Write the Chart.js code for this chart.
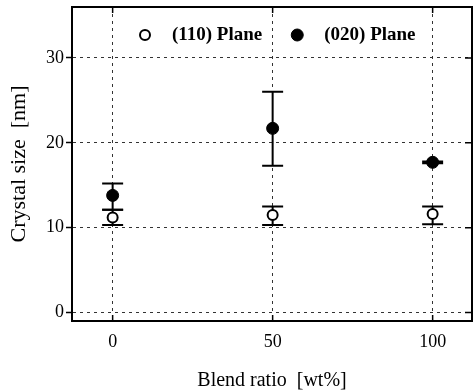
<!DOCTYPE html>
<html>
<head>
<meta charset="utf-8">
<script src="https://cdn.jsdelivr.net/npm/chart.js@4"></script>
<style>
  html, body { margin: 0; padding: 0; background: #fff; }
  #chartBox { width: 473px; height: 391px; }
</style>
</head>
<body>
<div id="chartBox"><canvas id="crystalChart" width="473" height="391"></canvas></div>
<script>
// values
const blendRatio = [0, 50, 100];
const plane110 = [11.2, 11.5, 11.6];
const plane110Low = [10.3, 10.3, 10.4];
const plane110High = [12.1, 12.5, 12.5];
const plane020 = [13.8, 21.7, 17.7];
const plane020Low = [12.1, 17.3, 17.6];
const plane020High = [15.2, 26.0, 17.8];
const xTicks = [0, 50, 100];
const yTicks = [0, 10, 20, 30];
const seriesNames = ["(110) Plane", "(020) Plane"];

const serif = "'Liberation Serif', 'Times New Roman', serif";
Chart.defaults.font.family = serif;
Chart.defaults.color = "#000";

const toPoints = (ys) => blendRatio.map((x, i) => ({ x: x, y: ys[i] }));

// error bars drawn under the markers so open circles stay white inside
const errorBars = {
  id: "errorBars",
  beforeDatasetsDraw(chart) {
    const ctx = chart.ctx;
    const xs = chart.scales.x;
    const ys = chart.scales.y;
    ctx.save();
    ctx.strokeStyle = "#000";
    ctx.lineWidth = 2;
    chart.data.datasets.forEach(ds => {
      ds.data.forEach((p, j) => {
        const px = xs.getPixelForValue(p.x);
        const lo = ys.getPixelForValue(ds.errLow[j]);
        const hi = ys.getPixelForValue(ds.errHigh[j]);
        ctx.beginPath();
        ctx.moveTo(px, lo); ctx.lineTo(px, hi);
        ctx.moveTo(px - 10.5, lo); ctx.lineTo(px + 10.5, lo);
        ctx.moveTo(px - 10.5, hi); ctx.lineTo(px + 10.5, hi);
        ctx.stroke();
      });
    });
    ctx.restore();
  }
};

// top/right frame and the inward tick marks
const frame = {
  id: "frame",
  afterDraw(chart) {
    const ctx = chart.ctx;
    const a = chart.chartArea;
    const xs = chart.scales.x;
    const ys = chart.scales.y;
    ctx.save();
    ctx.strokeStyle = "#000";
    ctx.lineWidth = 2;
    ctx.beginPath();
    ctx.moveTo(a.left, a.top); ctx.lineTo(a.right, a.top); ctx.lineTo(a.right, a.bottom);
    ctx.stroke();
    ctx.lineWidth = 1.5;
    ctx.beginPath();
    xTicks.forEach(v => {
      const px = xs.getPixelForValue(v);
      ctx.moveTo(px, a.bottom); ctx.lineTo(px, a.bottom - 6);
      ctx.moveTo(px, a.top); ctx.lineTo(px, a.top + 6);
    });
    yTicks.forEach(v => {
      const py = ys.getPixelForValue(v);
      ctx.moveTo(a.right, py); ctx.lineTo(a.right - 7, py);
    });
    ctx.stroke();
    ctx.restore();
  }
};

// legend sits inside the plot, at the top
const insideLegend = {
  id: "insideLegend",
  afterDraw(chart) {
    const ctx = chart.ctx;
    const a = chart.chartArea;
    let x = a.left + 73;
    const y = a.top + 28;
    ctx.save();
    ctx.font = "bold 19px " + serif;
    ctx.textBaseline = "middle";
    chart.data.datasets.forEach(ds => {
      ctx.beginPath();
      ctx.arc(x, y, ds.pointRadius, 0, Math.PI * 2);
      ctx.fillStyle = ds.backgroundColor;
      ctx.fill();
      ctx.lineWidth = ds.borderWidth;
      ctx.strokeStyle = ds.borderColor;
      ctx.stroke();
      ctx.fillStyle = "#000";
      ctx.fillText(ds.label, x + 27, y);
      x += 27 + ctx.measureText(ds.label).width + 35;
    });
    ctx.restore();
  }
};

new Chart(document.getElementById("crystalChart").getContext("2d"), {
  type: "scatter",
  data: {
    datasets: [
      {
        label: seriesNames[0],
        data: toPoints(plane110),
        errLow: plane110Low,
        errHigh: plane110High,
        pointRadius: 5,
        borderWidth: 2,
        borderColor: "#000",
        backgroundColor: "#fff"
      },
      {
        label: seriesNames[1],
        data: toPoints(plane020),
        errLow: plane020Low,
        errHigh: plane020High,
        pointRadius: 6,
        borderWidth: 1,
        borderColor: "#000",
        backgroundColor: "#000"
      }
    ]
  },
  options: {
    responsive: false,
    animation: false,
    layout: { autoPadding: false, padding: { top: 7, right: 1, left: 0, bottom: 0 } },
    plugins: { legend: { display: false }, tooltip: { enabled: false } },
    scales: {
      x: {
        type: "linear",
        min: -12.7,
        max: 112.3,
        afterBuildTicks: s => { s.ticks = xTicks.map(v => ({ value: v })); },
        afterFit: s => { s.height = 70; s.paddingLeft = 0; s.paddingRight = 0; },
        grid: { color: "#333", lineWidth: 1, drawTicks: false },
        border: { color: "#000", width: 2, dash: [3, 4] },
        ticks: { font: { size: 18 }, padding: 10, color: "#000" },
        title: { display: true, text: "Blend ratio  [wt%]", font: { size: 20, lineHeight: 1 }, padding: 0, color: "#000" }
      },
      y: {
        min: -1,
        max: 36,
        afterBuildTicks: s => { s.ticks = yTicks.map(v => ({ value: v })); },
        afterFit: s => { s.width = 72; s.paddingTop = 0; s.paddingBottom = 0; },
        grid: { color: "#333", lineWidth: 1, drawTicks: true, tickLength: 6, tickColor: "#000", tickWidth: 1.5 },
        border: { color: "#000", width: 2, dash: [3, 4] },
        ticks: { font: { size: 18 }, padding: 2, color: "#000" },
        title: { display: true, text: "Crystal size  [nm]", font: { size: 22 }, padding: { top: 6 }, color: "#000" }
      }
    }
  },
  plugins: [errorBars, frame, insideLegend]
});
</script>
</body>
</html>
